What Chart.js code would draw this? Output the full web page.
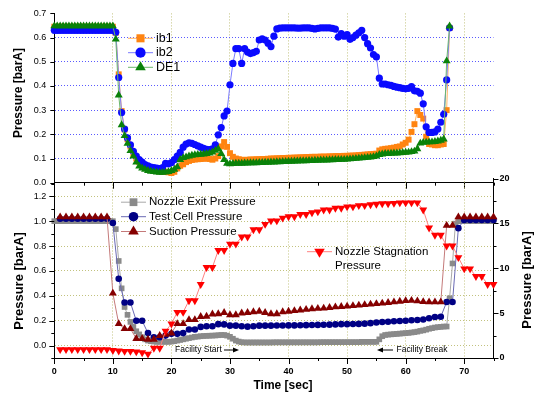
<!DOCTYPE html>
<html lang="en">
<head>
  <meta charset="UTF-8">
  <title>Pressure vs Time</title>
  <script src="https://cdn.jsdelivr.net/npm/chart.js"></script>
  <style>
    body { margin: 0; background: #fff; }
    .wrap { position: relative; width: 538px; height: 399px; }
    .wrap canvas { position: absolute; left: 0; top: 0; }
  </style>
</head>
<body>
<div class="wrap">
  <canvas id="topChart" width="538" height="399"></canvas>
  <canvas id="bottomChart" width="538" height="399"></canvas>
</div>

<script>
  // ---- time bases ----
  const timeHalf = [0,0.5,1,1.5,2,2.5,3,3.5,4,4.5,5,5.5,6,6.5,7,7.5,8,8.5,9,9.5,
    10,10.5,11,11.5,12,12.5,13,13.5,14,14.5,15,15.5,16,16.5,17,17.5,18,18.5,19,19.5,
    20,20.5,21,21.5,22,22.5,23,23.5,24,24.5,25,25.5,26,26.5,27,27.5,28,28.5,29,29.5,
    30,30.5,31,31.5,32,32.5,33,33.5,34,34.5,35,35.5,36,36.5,37,37.5,38,38.5,39,39.5,
    40,40.5,41,41.5,42,42.5,43,43.5,44,44.5,45,45.5,46,46.5,47,47.5,48,48.5,49,49.5,
    50,50.5,51,51.5,52,52.5,53,53.5,54,54.5,55,55.5,56,56.5,57,57.5,58,58.5,59,59.5,
    60,60.5,61,61.5,62,62.5,63,63.5,64,64.5,65,65.5,66,66.5,67,67.5,68,68.5,69,69.5,
    70,70.5,71,71.5,72,72.5,73,73.5,74,74.5,75];
  const timeSec = [1,2,3,4,5,6,7,8,9,10,11,12,13,14,15,16,17,18,19,20,21,22,23,24,25,
    26,27,28,29,30,31,32,33,34,35,36,37,38,39,40,41,42,43,44,45,46,47,48,49,50,
    51,52,53,54,55,56,57,58,59,60,61,62,63,64,65,66,67,68,69,70,71,72,73,74,75];

  // ---- top panel (every 0.5 s, 0 .. 67.5 s) ----
  const ib1 = [0.645,0.645,0.645,0.645,0.645,0.645,0.645,0.645,0.645,0.645,0.645,
    0.645,0.645,0.645,0.645,0.645,0.645,0.645,0.645,0.645,0.645,
    0.62,0.448,0.296,0.22,0.18,0.15,0.12,0.1,0.085,0.075,
    0.065,0.06,0.055,0.05,0.048,0.047,0.045,0.045,0.043,0.04,
    0.045,0.059,0.07,0.076,0.085,0.09,0.094,0.096,0.097,0.098,
    0.099,0.1,0.098,0.095,0.1,0.11,0.15,0.168,0.148,0.122,
    0.107,0.1,0.097,0.095,0.094,0.095,0.096,0.096,0.097,0.097,
    0.098,0.098,0.099,0.1,0.1,0.101,0.101,0.102,0.102,0.103,
    0.103,0.104,0.104,0.105,0.105,0.106,0.106,0.107,0.107,0.107,
    0.108,0.108,0.108,0.109,0.109,0.11,0.11,0.11,0.111,0.111,
    0.112,0.112,0.113,0.114,0.115,0.116,0.117,0.118,0.119,0.12,
    0.133,0.138,0.14,0.141,0.143,0.145,0.148,0.15,0.158,0.165,
    0.178,0.21,0.242,0.296,0.28,0.265,0.19,0.16,0.158,0.155,
    0.155,0.158,0.16,0.3,0.64];
  const ib2 = [0.63,0.63,0.63,0.63,0.63,0.63,0.63,0.63,0.63,0.63,0.63,
    0.63,0.63,0.63,0.63,0.63,0.63,0.63,0.63,0.63,0.63,
    0.622,0.435,0.29,0.222,0.185,0.156,0.13,0.11,0.095,0.085,
    0.075,0.07,0.065,0.062,0.06,0.058,0.062,0.08,0.078,0.083,
    0.095,0.11,0.125,0.147,0.16,0.165,0.163,0.158,0.152,0.147,
    0.142,0.138,0.137,0.14,0.157,0.198,0.228,0.276,0.296,0.405,
    0.493,0.554,0.554,0.493,0.554,0.54,0.534,0.538,0.543,0.59,
    0.595,0.59,0.577,0.563,0.606,0.636,0.639,0.64,0.64,0.64,
    0.64,0.64,0.639,0.639,0.64,0.64,0.64,0.638,0.636,0.638,
    0.64,0.64,0.64,0.64,0.638,0.635,0.602,0.616,0.606,0.612,
    0.593,0.6,0.61,0.62,0.63,0.6,0.575,0.557,0.53,0.52,
    0.432,0.408,0.408,0.405,0.402,0.398,0.395,0.393,0.39,0.388,
    0.39,0.397,0.38,0.378,0.37,0.326,0.231,0.208,0.208,0.21,
    0.222,0.25,0.283,0.425,0.64];
  const de1 = [0.648,0.648,0.648,0.648,0.648,0.648,0.648,0.648,0.648,0.648,0.648,
    0.648,0.648,0.648,0.648,0.648,0.648,0.648,0.648,0.648,0.648,
    0.593,0.362,0.239,0.194,0.162,0.132,0.11,0.085,0.068,0.06,
    0.055,0.05,0.047,0.045,0.043,0.042,0.042,0.043,0.045,0.05,
    0.055,0.065,0.095,0.103,0.106,0.11,0.113,0.115,0.116,0.117,
    0.118,0.12,0.122,0.126,0.133,0.14,0.12,0.095,0.08,0.078,
    0.079,0.08,0.08,0.08,0.081,0.081,0.082,0.082,0.082,0.083,
    0.083,0.084,0.084,0.085,0.085,0.086,0.086,0.087,0.087,0.088,
    0.088,0.089,0.089,0.09,0.09,0.09,0.091,0.091,0.092,0.092,
    0.093,0.093,0.093,0.094,0.094,0.095,0.095,0.096,0.096,0.097,
    0.098,0.099,0.1,0.101,0.102,0.103,0.104,0.105,0.107,0.11,
    0.116,0.118,0.12,0.12,0.121,0.122,0.122,0.123,0.124,0.125,
    0.126,0.128,0.13,0.14,0.163,0.166,0.167,0.168,0.168,0.17,
    0.172,0.175,0.18,0.503,0.647];

  // ---- bottom panel ----
  // nozzle exit, every 0.5 s, 0 .. 75 s
  const nozzleExit = [1,1,1,1,1,1,1,1,1,1,1,1,1,1,1,1,1,1,1,1,1,
    0.936,0.68,0.46,0.31,0.247,0.19,0.15,0.115,0.09,0.067,
    0.05,0.04,0.035,0.032,0.03,0.03,0.03,0.03,0.03,0.032,
    0.035,0.04,0.045,0.05,0.055,0.06,0.065,0.07,0.072,0.075,
    0.077,0.078,0.079,0.08,0.081,0.083,0.085,0.085,0.08,0.07,
    0.055,0.04,0.032,0.027,
    0.025,0.025,0.025,0.025,0.025,0.025,0.025,0.025,0.025,0.025,
    0.026,0.026,0.026,0.026,0.026,0.026,0.026,0.026,0.026,0.026,0.026,0.026,0.026,0.026,0.026,0.026,
    0.027,0.027,0.027,0.027,0.027,0.027,0.027,0.027,0.027,0.027,0.027,0.027,0.027,0.027,
    0.03,0.03,0.03,0.03,0.03,0.03,
    0.05,0.075,0.085,0.088,0.09,0.092,0.094,0.096,0.098,0.1,
    0.102,0.105,0.108,0.112,0.118,0.122,0.128,0.135,0.14,0.145,
    0.148,0.15,0.153,0.153,0.38,0.66,0.98,
    1,1,1,1,1,1,1,1,1,1,1,1,1];
  // every 1 s, 1 .. 75 s
  const testCell = [1.02,1.02,1.02,1.02,1.02,1.02,1.02,1.02,1.02,
    0.985,0.537,0.346,0.346,0.199,0.199,0.1,0.067,0.067,0.08,
    0.094,0.094,0.1,0.129,0.129,0.15,0.155,0.155,0.172,0.17,
    0.16,0.16,0.155,0.152,0.155,0.16,0.16,0.16,0.161,0.161,
    0.162,0.162,0.163,0.164,0.165,0.166,0.167,0.168,0.17,0.172,
    0.172,0.173,0.174,0.176,0.18,0.185,0.19,0.192,0.195,0.198,
    0.2,0.203,0.205,0.21,0.22,0.23,0.232,0.35,0.35,0.944,
    1.01,1.01,1.01,1.01,1.01,1.01];
  const suction = [1.033,1.033,1.033,1.033,1.033,1.033,1.033,1.033,1.033,
    0.42,0.175,0.135,0.135,0.056,0.056,0.05,0.05,0.08,0.09,
    0.1,0.175,0.175,0.207,0.207,0.233,0.235,0.253,0.255,0.265,
    0.247,0.247,0.26,0.265,0.27,0.275,0.265,0.255,0.255,0.27,
    0.275,0.28,0.285,0.29,0.295,0.298,0.3,0.305,0.31,0.313,
    0.316,0.32,0.324,0.328,0.332,0.336,0.34,0.345,0.35,0.355,
    0.36,0.362,0.358,0.352,0.35,0.35,0.35,0.965,0.965,
    1.033,1.033,1.033,1.033,1.033,1.033,1.033];
  // right axis
  const stagnation = [0.95,0.95,0.95,0.95,0.95,0.95,0.95,0.95,0.95,
    0.85,0.8,0.75,0.75,0.7,0.6,0.45,1.1,1.1,3.0,
    3.8,5.1,5.1,6.4,6.4,8.2,10.1,10.1,12.0,12.0,
    12.7,12.7,13.5,13.5,14.3,14.3,14.9,15.3,15.3,15.6,
    15.75,15.75,16.0,16.0,16.2,16.3,16.5,16.5,16.7,16.7,
    16.85,16.85,17.0,17.0,17.1,17.15,17.2,17.2,17.25,17.3,
    17.3,17.3,17.3,16.5,14.5,13.7,13.7,12.5,12.5,11.2,
    9.95,9.95,9.1,9.1,8.2,8.2];

  // ---- ticks ----
  const xLabelTicks = [0, 10, 20, 30, 40, 50, 60, 70];
  const xGridTicks = [10, 20, 30, 40, 50, 60, 70];
  const xMinorTicks = [5, 15, 25, 35, 45, 55, 65, 75];
  const topYTicks = [0, 0.1, 0.2, 0.3, 0.4, 0.5, 0.6, 0.7];
  const bottomYTicks = [0, 0.2, 0.4, 0.6, 0.8, 1.0, 1.2];
  const bottomYMinor = [-0.1, 0.1, 0.3, 0.5, 0.7, 0.9, 1.1, 1.3];
  const rightYTicks = [0, 5, 10, 15, 20];
  const rightYMinor = [2.5, 7.5, 12.5, 17.5];

  const FONT = 'Arial, "Liberation Sans", sans-serif';
  const OLIVE = '#c2c27e';
  const GRIDBLUE = '#5a5aff';
  const W = 538, H = 399;
  const LEFT = 54.3, RIGHT = 493.5;

  function series(label, xs, ys, style) {
    return Object.assign({
      label: label,
      data: ys.map((y, i) => ({ x: xs[i], y: y })),
      borderWidth: 1,
      pointBorderWidth: 0,
      pointHoverRadius: 0,
      clip: false
    }, style);
  }

  function tickMarks(chart, id, values, len, side) {
    const s = chart.scales[id];
    const ctx = chart.ctx;
    ctx.save();
    ctx.strokeStyle = '#000';
    ctx.lineWidth = 1;
    ctx.beginPath();
    values.forEach(v => {
      const p = Math.round(s.getPixelForValue(v)) + 0.5;
      if (side === 'down') { ctx.moveTo(p, s.top); ctx.lineTo(p, s.top + len); }
      else if (side === 'left') { ctx.moveTo(s.right, p); ctx.lineTo(s.right - len, p); }
      else { ctx.moveTo(s.left, p); ctx.lineTo(s.left + len, p); }
    });
    ctx.stroke();
    ctx.restore();
  }

  function axisTitle(ctx, text, x, y, vertical, size) {
    ctx.save();
    ctx.translate(x, y);
    if (vertical) ctx.rotate(-Math.PI / 2);
    ctx.font = 'bold ' + size + 'px ' + FONT;
    ctx.fillStyle = '#000';
    ctx.textAlign = 'center';
    ctx.textBaseline = 'middle';
    ctx.fillText(text, 0, 0);
    ctx.restore();
  }

  function legendEntry(ctx, ds, x1, x2, y, lines, size) {
    ctx.save();
    ctx.strokeStyle = ds.borderColor;
    ctx.lineWidth = 1;
    ctx.beginPath();
    ctx.moveTo(x1, y);
    ctx.lineTo(x2, y);
    ctx.stroke();
    ctx.fillStyle = ds.pointBackgroundColor;
    ctx.strokeStyle = ds.pointBackgroundColor;
    Chart.helpers.drawPoint(ctx, {
      pointStyle: ds.pointStyle, radius: ds.pointRadius + 1.5,
      rotation: ds.pointRotation || 0, borderWidth: 0
    }, (x1 + x2) / 2, y);
    ctx.fillStyle = '#000';
    ctx.font = size + 'px ' + FONT;
    ctx.textAlign = 'left';
    ctx.textBaseline = 'middle';
    lines.forEach((t, i) => ctx.fillText(t, x2 + 3, y + i * 14));
    ctx.restore();
  }

  function arrow(ctx, x1, x2, y) {
    const dir = Math.sign(x2 - x1);
    ctx.save();
    ctx.strokeStyle = '#000';
    ctx.fillStyle = '#000';
    ctx.lineWidth = 1;
    ctx.beginPath();
    ctx.moveTo(x1, y);
    ctx.lineTo(x2 - dir * 4, y);
    ctx.stroke();
    ctx.beginPath();
    ctx.moveTo(x2, y);
    ctx.lineTo(x2 - dir * 6, y - 2.5);
    ctx.lineTo(x2 - dir * 6, y + 2.5);
    ctx.closePath();
    ctx.fill();
    ctx.restore();
  }

  // ---------- top chart ----------
  const topDecor = {
    id: 'topDecor',
    afterDraw(chart) {
      const ctx = chart.ctx;
      tickMarks(chart, 'x', xLabelTicks, 6, 'down');
      tickMarks(chart, 'x', xMinorTicks, 3, 'down');
      tickMarks(chart, 'y', topYTicks, 4, 'left');
      axisTitle(ctx, 'Pressure [barA]', 19, 93, true, 12);
      const ds = chart.data.datasets;
      legendEntry(ctx, ds[0], 128, 153, 38.3, ['ib1'], 12.5);
      legendEntry(ctx, ds[1], 128, 153, 52.7, ['ib2'], 12.5);
      legendEntry(ctx, ds[2], 128, 153, 67.3, ['DE1'], 12.5);
    }
  };

  new Chart(document.getElementById('topChart'), {
    type: 'line',
    data: {
      datasets: [
        series('ib1', timeHalf, ib1, { borderColor: '#ffb463', pointBackgroundColor: '#ff8410', pointStyle: 'rect', pointRadius: 4.2, order: 3 }),
        series('ib2', timeHalf, ib2, { borderColor: '#7b7bff', pointBackgroundColor: '#0a0aff', pointStyle: 'circle', pointRadius: 3.6, order: 2 }),
        series('DE1', timeHalf, de1, { borderColor: '#6cb86c', pointBackgroundColor: '#0a820a', pointStyle: 'triangle', pointRadius: 4.6, order: 1 })
      ]
    },
    options: {
      responsive: false,
      animation: false,
      devicePixelRatio: 1,
      layout: { padding: { left: 0, right: W - RIGHT, top: 11, bottom: H - 182.7 } },
      plugins: { legend: { display: false }, tooltip: { enabled: false } },
      scales: {
        x: {
          type: 'linear', min: 0, max: 75,
          afterBuildTicks: s => { s.ticks = xGridTicks.map(v => ({ value: v })); },
          afterFit: s => { s.height = 0; },
          ticks: { display: false },
          grid: { color: OLIVE, drawTicks: false },
          border: { color: '#000', width: 1, dash: [1, 2] }
        },
        y: {
          min: 0, max: 0.7,
          afterBuildTicks: s => { s.ticks = topYTicks.map(v => ({ value: v })); },
          afterFit: s => { s.width = LEFT; },
          ticks: {
            autoSkip: false, padding: 8, color: '#000',
            font: { family: FONT, size: 9 },
            callback: v => v.toFixed(1)
          },
          grid: {
            drawTicks: false,
            color: c => (c.tick && c.tick.value > 0.05 && c.tick.value < 0.65) ? GRIDBLUE : 'rgba(0,0,0,0)'
          },
          border: { color: '#000', width: 1, dash: [1, 2] }
        }
      }
    },
    plugins: [topDecor]
  });

  // ---------- bottom chart ----------
  const bottomDecor = {
    id: 'bottomDecor',
    afterDraw(chart) {
      const ctx = chart.ctx;
      tickMarks(chart, 'x', xLabelTicks, 6, 'down');
      tickMarks(chart, 'x', xMinorTicks, 3, 'down');
      tickMarks(chart, 'y', bottomYTicks, 5, 'left');
      tickMarks(chart, 'y', bottomYMinor, 3, 'left');
      tickMarks(chart, 'y2', rightYTicks, 5, 'right');
      tickMarks(chart, 'y2', rightYMinor, 3, 'right');
      axisTitle(ctx, 'Pressure [barA]', 19, 281, true, 13);
      axisTitle(ctx, 'Pressure [barA]', 527, 280, true, 13);
      axisTitle(ctx, 'Time [sec]', 283, 386, false, 12);
      const ds = chart.data.datasets;
      legendEntry(ctx, ds[0], 121, 146, 202.2, ['Nozzle Exit Pressure'], 11.5);
      legendEntry(ctx, ds[1], 121, 146, 216.7, ['Test Cell Pressure'], 11.5);
      legendEntry(ctx, ds[2], 121, 146, 231.5, ['Suction Pressure'], 11.5);
      legendEntry(ctx, ds[3], 307, 332, 251.7, ['Nozzle Stagnation', 'Pressure'], 11.5);
      // annotations
      ctx.save();
      ctx.fillStyle = '#000';
      ctx.font = '8.5px ' + FONT;
      ctx.textBaseline = 'middle';
      ctx.textAlign = 'left';
      ctx.fillText('Facility Start', 175, 350);
      ctx.fillText('Facility Break', 396.5, 350);
      ctx.restore();
      arrow(ctx, 224, 239, 350);
      arrow(ctx, 393, 377, 350);
    }
  };

  new Chart(document.getElementById('bottomChart'), {
    type: 'line',
    data: {
      datasets: [
        series('Nozzle Exit Pressure', timeHalf, nozzleExit, { borderColor: '#a8a8a8', pointBackgroundColor: '#8a8a8a', pointStyle: 'rect', pointRadius: 4, yAxisID: 'y', order: 4 }),
        series('Test Cell Pressure', timeSec, testCell, { borderColor: '#6a6ab4', pointBackgroundColor: '#000084', pointStyle: 'circle', pointRadius: 3.3, yAxisID: 'y', order: 3 }),
        series('Suction Pressure', timeSec, suction, { borderColor: '#c47a7a', pointBackgroundColor: '#850000', pointStyle: 'triangle', pointRadius: 4.6, yAxisID: 'y', order: 2 }),
        series('Nozzle Stagnation Pressure', timeSec, stagnation, { borderColor: '#ff8080', pointBackgroundColor: '#ff0000', pointStyle: 'triangle', pointRotation: 180, pointRadius: 4.6, yAxisID: 'y2', order: 1 })
      ]
    },
    options: {
      responsive: false,
      animation: false,
      devicePixelRatio: 1,
      layout: { padding: { left: 0, right: 0, top: 178.5, bottom: 0 } },
      plugins: { legend: { display: false }, tooltip: { enabled: false } },
      scales: {
        x: {
          type: 'linear', min: 0, max: 75,
          afterBuildTicks: s => { s.ticks = xLabelTicks.map(v => ({ value: v })); },
          afterFit: s => { s.height = H - 358; },
          ticks: {
            autoSkip: false, maxRotation: 0, padding: 8, color: '#000',
            font: { family: FONT, size: 9, weight: 'bold' },
            callback: v => String(v)
          },
          grid: {
            drawTicks: false,
            color: c => (c.tick && c.tick.value > 0) ? OLIVE : 'rgba(0,0,0,0)'
          },
          border: { color: '#000', width: 1, dash: [1, 2] }
        },
        y: {
          position: 'left',
          min: -0.1, max: 1.343,
          afterBuildTicks: s => { s.ticks = bottomYTicks.map(v => ({ value: v })); },
          afterFit: s => { s.width = LEFT; },
          ticks: {
            autoSkip: false, padding: 8, color: '#000',
            font: { family: FONT, size: 9 },
            callback: v => v.toFixed(1)
          },
          grid: { drawTicks: false, color: OLIVE },
          border: { color: '#000', width: 1, dash: [1, 2] }
        },
        y2: {
          position: 'right',
          min: 0, max: 20,
          afterBuildTicks: s => { s.ticks = rightYTicks.map(v => ({ value: v })); },
          afterFit: s => { s.width = W - RIGHT; },
          ticks: {
            autoSkip: false, padding: 6, color: '#000',
            font: { family: FONT, size: 9, weight: 'bold' },
            callback: v => String(v)
          },
          grid: { drawTicks: false, drawOnChartArea: false },
          border: { color: '#000', width: 1 }
        }
      }
    },
    plugins: [bottomDecor]
  });
</script>
</body>
</html>
